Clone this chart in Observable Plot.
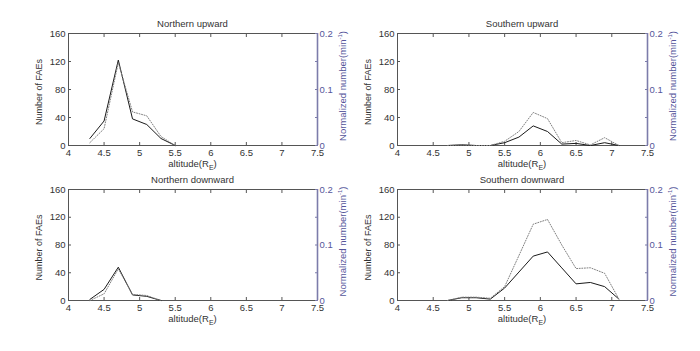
<!DOCTYPE html>
<html><head><meta charset="utf-8">
<script src="https://cdn.jsdelivr.net/npm/d3@7"></script>
<script src="https://cdn.jsdelivr.net/npm/@observablehq/plot@0.6"></script>
<style>
body{margin:0;background:#fff;}
#wrap{position:relative;width:700px;height:351px;overflow:hidden;background:#fff}
#wrap svg{position:absolute;}
</style></head><body><div id="wrap"></div>
<script>
// ---- data ----
const xTicks = [4, 4.5, 5, 5.5, 6, 6.5, 7, 7.5];
const countTicks = [0, 40, 80, 120, 160];
const normTicks = [0, 0.05, 0.1, 0.15, 0.2];
const normLabels = ["0", "", "0.1", "", "0.2"];

const titles = ["Northern upward", "Southern upward", "Northern downward", "Southern downward"];

const northUpX = [4.3, 4.5, 4.7, 4.9, 5.1, 5.3, 5.5];
const northUpCount = [10, 35, 122, 38, 30, 10, 0];
const northUpNorm = [0.005, 0.03, 0.148, 0.06, 0.053, 0.016, 0];

const southUpX = [4.7, 4.9, 5.1, 5.3, 5.5, 5.7, 5.9, 6.1, 6.3, 6.5, 6.7, 6.9, 7.1];
const southUpCount = [0, 1, 0, 0, 4, 12, 28, 20, 2, 3, 0, 4, 0];
const southUpNorm = [0, 0.001, 0, 0, 0.0075, 0.025, 0.059, 0.048, 0.005, 0.009, 0.001, 0.014, 0];

const northDownX = [4.3, 4.5, 4.7, 4.9, 5.1, 5.3];
const northDownCount = [1.5, 16, 48, 8, 6, 0];
const northDownNorm = [0, 0.012, 0.057, 0.011, 0.009, 0];

const southDownX = [4.7, 4.9, 5.1, 5.3, 5.5, 5.7, 5.9, 6.1, 6.3, 6.5, 6.7, 6.9, 7.1];
const southDownCount = [0, 4, 4, 2, 18, 41, 64, 70, 47, 24, 26, 20, 2];
const southDownNorm = [0, 0.006, 0.006, 0.004, 0.025, 0.081, 0.1375, 0.146, 0.1, 0.0575, 0.059, 0.049, 0.0025];

// ---- drawing ----
const FONT = "'Liberation Sans', Arial, sans-serif";
const wrap = document.getElementById("wrap");

function panel(title, xs, counts, norms, left, top, m) {
  const W = 350, H = 175;
  const countData = xs.map((x, i) => ({x, y: counts[i]}));
  const normData = xs.map((x, i) => ({x, y: norms[i]}));
  const common = {
    width: W, height: H,
    marginTop: m.t, marginBottom: m.b, marginLeft: m.l, marginRight: m.r,
    style: {fontFamily: FONT, fontSize: "9.5px", color: "#333", background: "none", overflow: "visible"}
  };
  const p1 = Plot.plot({
    ...common,
    x: {domain: [4, 7.5]},
    y: {domain: [0, 160]},
    marks: [
      Plot.frame({stroke: "#555"}),
      Plot.axisX({ticks: xTicks, tickSize: -3, tickPadding: 7, tickFormat: d => `${d}`, label: null, stroke: "#555"}),
      Plot.axisX({anchor: "top", ticks: xTicks, tickSize: -3, tickFormat: () => "", label: null, stroke: "#555"}),
      Plot.axisY({ticks: countTicks, tickSize: -3, tickPadding: 6, label: null, stroke: "#555"}),
      Plot.line(countData, {x: "x", y: "y", stroke: "#1a1a1a", strokeWidth: 1})
    ]
  });
  const p2 = Plot.plot({
    ...common,
    x: {domain: [4, 7.5], axis: null},
    y: {domain: [0, 0.2]},
    marks: [
      Plot.ruleX([7.5], {stroke: "#7c7caa", strokeWidth: 1.6}),
      Plot.axisY({anchor: "right", ticks: normTicks, tickSize: -3, tickPadding: 5,
        tickFormat: (d, i) => normLabels[i], label: null, stroke: "#7c7caa", color: "#55559a", fill: "#55559a"}),
      Plot.line(normData, {x: "x", y: "y", stroke: "#808080", strokeWidth: 1, strokeDasharray: "1,1.6"})
    ]
  });
  for (const p of [p1, p2]) {
    p.style.left = left + "px";
    p.style.top = top + "px";
    wrap.appendChild(p);
  }
  const fl = m.l, fr = W - m.r, ft = m.t, fb = H - m.b;
  const cx = (fl + fr) / 2;
  const s = d3.select(p2);
  s.append("text").attr("x", cx).attr("y", ft - 6).attr("text-anchor", "middle")
    .attr("fill", "#333").attr("font-size", 9.5).attr("font-family", FONT).text(title);
  const xl = s.append("text").attr("x", cx).attr("y", fb + 22).attr("text-anchor", "middle")
    .attr("fill", "#333").attr("font-size", 9.5).attr("font-family", FONT);
  xl.append("tspan").text("altitude(R");
  xl.append("tspan").attr("font-size", 7).attr("dy", 3).text("E");
  xl.append("tspan").attr("dy", -3).text(")");
  s.append("text").attr("transform", `translate(${fl - 26},${(ft + fb) / 2 + 3}) rotate(-90)`)
    .attr("text-anchor", "middle").attr("fill", "#333").attr("font-size", 9).attr("font-family", FONT)
    .text("Number of FAEs");
  const rl = s.append("text").attr("transform", `translate(${fr + 29},${(ft + fb) / 2 - 3}) rotate(-90)`)
    .attr("text-anchor", "middle").attr("fill", "#55559a").attr("font-size", 9.5).attr("font-family", FONT);
  rl.append("tspan").text("Normalized number(min");
  rl.append("tspan").attr("font-size", 6).attr("dy", -4).text("-1");
  rl.append("tspan").attr("dy", 4).text(")");
}

panel(titles[0], northUpX, northUpCount, northUpNorm, 0, 0, {t: 33, b: 30, l: 68, r: 33});
panel(titles[1], southUpX, southUpCount, southUpNorm, 350, 0, {t: 33, b: 30, l: 47, r: 53});
panel(titles[2], northDownX, northDownCount, northDownNorm, 0, 175, {t: 14, b: 50, l: 68, r: 33});
panel(titles[3], southDownX, southDownCount, southDownNorm, 350, 175, {t: 14, b: 50, l: 47, r: 53});
</script></body></html>
